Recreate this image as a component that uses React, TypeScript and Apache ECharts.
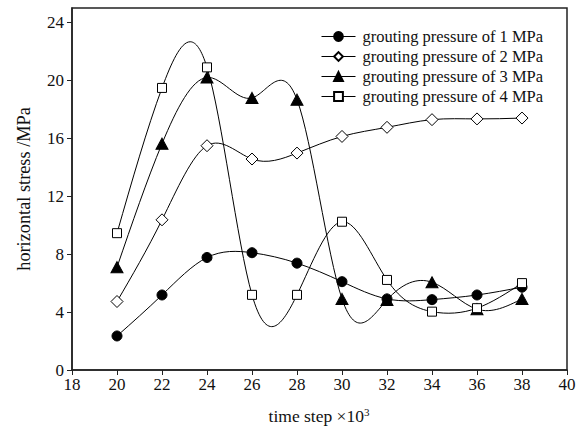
import React, { useEffect, useRef } from "react";
import * as echarts from "echarts";

const steps = [20, 22, 24, 26, 28, 30, 32, 34, 36, 38];
const p1 = [2.35, 5.18, 7.77, 8.1, 7.38, 6.1, 4.91, 4.86, 5.18, 5.72];
const p2 = [4.73, 10.37, 15.49, 14.57, 14.98, 16.13, 16.76, 17.29, 17.34, 17.4];
const p3 = [7.1, 15.63, 20.2, 18.79, 18.67, 4.91, 4.84, 6.06, 4.2, 4.91];
const p4 = [9.45, 19.48, 20.9, 5.19, 5.19, 10.24, 6.22, 4.03, 4.27, 6.0];
const seriesNames = [
  "grouting pressure of 1 MPa",
  "grouting pressure of 2 MPa",
  "grouting pressure of 3 MPa",
  "grouting pressure of 4 MPa",
];
const yTicks = [0, 4, 8, 12, 16, 20, 24];

const FONT = "'Liberation Serif', 'Times New Roman', serif";

// Draws a natural cubic spline through the series' own points (pixel coords from api.coord)
function splineRenderItem(params: any, api: any) {
  if (params.dataIndexInside !== 0) return null;
  const n = params.dataInsideLength;
  const pts: number[][] = [];
  for (let j = 0; j < n; j++) pts.push(api.coord([api.value(0, j), api.value(1, j)]));
  if (n < 2) return null;
  const h: number[] = [];
  for (let i = 0; i < n - 1; i++) h.push(pts[i + 1][0] - pts[i][0]);
  const M = new Array(n).fill(0);
  if (n > 2) {
    const m = n - 2;
    const a: number[] = [], b: number[] = [], c: number[] = [], d: number[] = [];
    for (let i = 1; i <= m; i++) {
      a.push(h[i - 1]);
      b.push(2 * (h[i - 1] + h[i]));
      c.push(h[i]);
      d.push(6 * ((pts[i + 1][1] - pts[i][1]) / h[i] - (pts[i][1] - pts[i - 1][1]) / h[i - 1]));
    }
    for (let i = 1; i < m; i++) {
      const w = a[i] / b[i - 1];
      b[i] -= w * c[i - 1];
      d[i] -= w * d[i - 1];
    }
    const sol = new Array(m).fill(0);
    sol[m - 1] = d[m - 1] / b[m - 1];
    for (let i = m - 2; i >= 0; i--) sol[i] = (d[i] - c[i] * sol[i + 1]) / b[i];
    for (let i = 0; i < m; i++) M[i + 1] = sol[i];
  }
  const children: any[] = [];
  for (let i = 0; i < n - 1; i++) {
    const hi = h[i];
    const y0 = pts[i][1], y1 = pts[i + 1][1];
    const s0 = (y1 - y0) / hi - (hi * (2 * M[i] + M[i + 1])) / 6;
    const s1 = (y1 - y0) / hi + (hi * (M[i] + 2 * M[i + 1])) / 6;
    children.push({
      type: "bezierCurve",
      shape: {
        x1: pts[i][0],
        y1: y0,
        cpx1: pts[i][0] + hi / 3,
        cpy1: y0 + (s0 * hi) / 3,
        cpx2: pts[i + 1][0] - hi / 3,
        cpy2: y1 - (s1 * hi) / 3,
        x2: pts[i + 1][0],
        y2: y1,
      },
      style: { stroke: "#000", lineWidth: 1, fill: null },
      silent: true,
    });
  }
  return { type: "group", children };
}

export default function App() {
  const ref = useRef<HTMLDivElement>(null);
  useEffect(() => {
    if (!ref.current) return;
    const chart = echarts.init(ref.current, null, { renderer: "svg" });
    const pair = (vals: number[]) => steps.map((s, i) => [s, vals[i]]);
    const curve = (vals: number[]) => ({
      type: "custom",
      data: pair(vals),
      renderItem: splineRenderItem,
      encode: { x: 0, y: 1 },
      clip: true,
      silent: true,
      z: 2,
    });
    const mk = (name: string, vals: number[], symbol: string, size: any, fill: string) => ({
      name,
      type: "line",
      data: pair(vals),
      symbol,
      symbolSize: size,
      showSymbol: true,
      z: 3,
      lineStyle: { color: "#000", width: 0, opacity: 0 },
      itemStyle: { color: fill, borderColor: "#000", borderWidth: 1 },
      emphasis: { disabled: true },
    });
    const legendLine = { color: "#000", width: 1, opacity: 1 };
    chart.setOption({
      animation: false,
      textStyle: { fontFamily: FONT },
      grid: {
        left: 72,
        right: 14,
        top: 8,
        bottom: 58,
        show: true,
        borderColor: "#222",
        borderWidth: 1.5,
        backgroundColor: "transparent",
      },
      xAxis: {
        type: "value",
        min: 18,
        max: 40,
        interval: 2,
        splitLine: { show: false },
        axisLine: { show: true, lineStyle: { color: "#222", width: 1.5 } },
        axisTick: { show: true, length: 5, lineStyle: { color: "#222", width: 1 } },
        axisLabel: { fontFamily: "Liberation Serif", fontSize: 17, color: "#111", margin: 6 },
      },
      yAxis: {
        type: "value",
        min: 0,
        max: 25,
        interval: 4,
        splitLine: { show: false },
        axisLine: { show: true, lineStyle: { color: "#222", width: 1.5 } },
        axisTick: { show: true, length: 5, customValues: yTicks, lineStyle: { color: "#222", width: 1 } },
        axisLabel: { fontFamily: "Liberation Serif", fontSize: 17, color: "#111", margin: 8, customValues: yTicks },
      },
      legend: {
        orient: "vertical",
        left: 316,
        top: 23,
        itemWidth: 34,
        itemHeight: 11,
        itemGap: 3,
        textStyle: { fontFamily: FONT, fontSize: 16.5, color: "#111", padding: [0, 0, 0, 2] },
        data: seriesNames.map((name) => ({ name, lineStyle: legendLine })),
      },
      graphic: [
        {
          type: "text",
          x: 319,
          y: 416,
          style: {
            text: "time step ×10{sup|3}",
            fontFamily: FONT,
            fontSize: 17.5,
            fill: "#111",
            align: "center",
            verticalAlign: "middle",
            rich: { sup: { fontFamily: FONT, fontSize: 11, fill: "#111", verticalAlign: "top", padding: [0, 0, 9, 0] } },
          },
        },
        {
          type: "text",
          x: 24,
          y: 189,
          rotation: Math.PI / 2,
          style: {
            text: "horizontal stress /MPa",
            fontFamily: FONT,
            fontSize: 18.3,
            fill: "#111",
            align: "center",
            verticalAlign: "middle",
          },
        },
      ],
      series: [
        curve(p1),
        curve(p2),
        curve(p3),
        curve(p4),
        mk(seriesNames[0], p1, "circle", 10, "#000"),
        mk(seriesNames[1], p2, "diamond", [12, 12], "#fff"),
        mk(seriesNames[2], p3, "triangle", [12, 11], "#000"),
        mk(seriesNames[3], p4, "rect", 9, "#fff"),
      ],
    });
    return () => chart.dispose();
  }, []);
  return <div ref={ref} style={{ width: 581, height: 428, position: "absolute", left: 0, top: 0 }} />;
}
